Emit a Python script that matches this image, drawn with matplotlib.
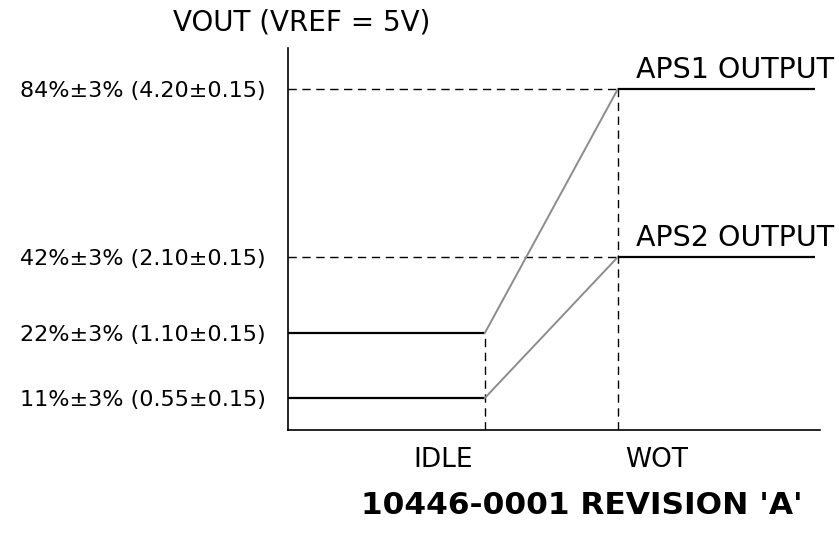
import numpy as np
import matplotlib
matplotlib.use("Agg")
import matplotlib.pyplot as plt
from matplotlib.scale import FuncScale

# ---- data ----
levels = [11, 22, 42, 84]  # percent of VREF
level_labels = ["11%\u00b13% (0.55\u00b10.15)",
                "22%\u00b13% (1.10\u00b10.15)",
                "42%\u00b13% (2.10\u00b10.15)",
                "84%\u00b13% (4.20\u00b10.15)"]
x_idle = 37
x_wot = 62
x_end = 99
aps1_idle, aps1_wot = 22, 84
aps2_idle, aps2_wot = 11, 42
series_names = ["APS1 OUTPUT", "APS2 OUTPUT"]
x_labels = ["IDLE", "WOT"]
y_title = "VOUT (VREF = 5V)"
caption = "10446-0001 REVISION 'A'"

plt.rcParams['font.family'] = ['DejaVu Sans']

W, H = 839, 533
fig = plt.figure(figsize=(W / 100, H / 100), dpi=100)
ax = fig.add_axes([288 / W, (H - 430) / H, (820 - 288) / W, (430 - 48) / H])

# schematic (non-linear) vertical scale
_src = [0, 11, 22, 42, 84, 100]
_dst = [0, 32, 97, 173, 341, 382]
ax.set_yscale(FuncScale(ax, (lambda v: np.interp(v, _src, _dst),
                             lambda v: np.interp(v, _dst, _src))))
ax.set_xlim(0, 100)
ax.set_ylim(0, 100)

dash = (0, (6, 4))
# dashed guides
for lv in (aps1_wot, aps2_wot):
    ax.plot([0, x_wot], [lv, lv], color='black', lw=1, linestyle=dash)
ax.plot([x_idle, x_idle], [0, aps1_idle], color='black', lw=1, linestyle=dash)
ax.plot([x_wot, x_wot], [0, aps1_wot], color='black', lw=1, linestyle=dash)

# outputs
for lo, hi in ((aps1_idle, aps1_wot), (aps2_idle, aps2_wot)):
    ax.plot([0, x_idle], [lo, lo], color='black', lw=1.6, solid_capstyle='butt')
    ax.plot([x_idle, x_wot], [lo, hi], color='#8c8c8c', lw=1.4)
    ax.plot([x_wot, x_end], [hi, hi], color='black', lw=1.6, solid_capstyle='butt')

for name, lv in zip(series_names, (aps1_wot, aps2_wot)):
    ax.annotate(name, (x_wot, lv), xytext=(13, 8), textcoords='offset points',
                fontsize=20.5, va='baseline', ha='left')

ax.set_yticks(levels)
ax.set_yticklabels(level_labels, fontsize=16)
ax.tick_params(axis='y', length=0, pad=16)
ax.set_xticks([])

for s in ('top', 'right'):
    ax.spines[s].set_visible(False)
ax.spines['left'].set_linewidth(1.2)
ax.spines['bottom'].set_linewidth(1.2)

fig.text(302 / W, 1 - 22 / H, y_title, fontsize=20, ha='center', va='center')
fig.text(443 / W, 1 - 460 / H, x_labels[0], fontsize=19, ha='center', va='center')
fig.text(657 / W, 1 - 460 / H, x_labels[1], fontsize=19, ha='center', va='center')
fig.text(582 / W, 1 - 505 / H, caption, fontsize=22.5, ha='center', va='center', fontweight='bold')

fig.savefig("out.png", dpi=100)
